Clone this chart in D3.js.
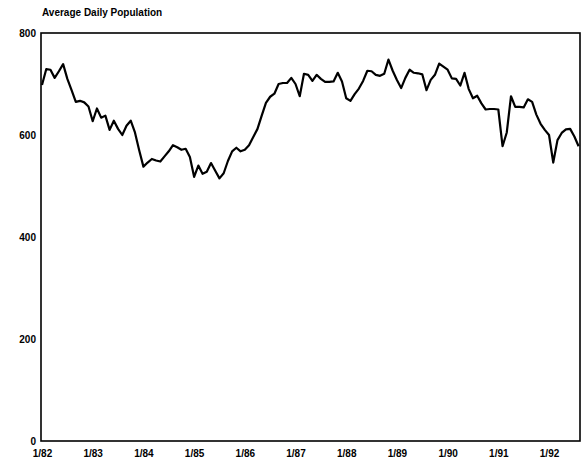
<!DOCTYPE html>
<html>
<head>
<meta charset="utf-8">
<script src="https://cdn.jsdelivr.net/npm/d3@7"></script>
<style>
  body { margin: 0; background: #fff; }
  text { font-family: "Liberation Sans", Arial, sans-serif; font-weight: bold; }
</style>
</head>
<body>
<div id="chart"></div>
<script>
// monthly values, Jan 1982 .. Aug 1992
var population = [
  698, 729, 728, 712, 725, 739, 710, 688, 665, 667, 664, 656,
  627, 652, 634, 638, 610, 628, 612, 600, 618, 628, 605, 570,
  538, 546, 553, 550, 548, 558, 568, 580, 576, 571, 573, 557,
  518, 540, 524, 528, 545, 530, 515, 525, 549, 568, 575, 568,
  571, 580, 596, 612, 638, 663, 675, 681, 700, 702, 702, 712,
  700, 676, 720, 718, 706, 718, 710, 704, 704, 705, 722, 705,
  672, 667, 680, 691, 706, 726, 725, 718, 716, 720, 748, 726,
  708, 692, 712, 728, 722, 721, 719, 688, 708, 718, 740, 734,
  728, 711, 710, 697, 722, 690, 672, 677, 662, 650, 651, 651,
  650, 578, 605, 676, 655, 655, 654, 670, 665, 640, 622, 610,
  600, 546, 590, 604, 611, 612, 597, 578
];
var yearLabels = ["1/82", "1/83", "1/84", "1/85", "1/86", "1/87", "1/88", "1/89", "1/90", "1/91", "1/92"];
var yTicks = [0, 200, 400, 600, 800];
var title = "Average Daily Population";

drawChart();

function drawChart() {
  var W = 581, H = 463;
  var m = {left: 41, right: 580, top: 33, bottom: 441};

  var svg = d3.select("#chart").append("svg")
    .attr("width", W)
    .attr("height", H);

  var x = d3.scaleLinear()
    .domain([0, population.length - 1])
    .range([m.left + 1, 578.6]);

  var y = d3.scaleLinear()
    .domain([0, 800])
    .range([m.bottom, m.top]);

  // title
  svg.append("text")
    .attr("x", 42)
    .attr("y", 16)
    .style("font-size", "10px")
    .text(title);

  // frame
  svg.append("rect")
    .attr("x", m.left)
    .attr("y", m.top)
    .attr("width", m.right - m.left)
    .attr("height", m.bottom - m.top)
    .attr("fill", "none")
    .attr("stroke", "#000")
    .attr("stroke-width", 1.6);

  // y axis labels
  var gy = svg.append("g")
    .attr("transform", "translate(" + m.left + ",0)")
    .call(d3.axisLeft(y).tickValues(yTicks).tickSize(0).tickPadding(5));
  gy.select(".domain").remove();
  gy.selectAll("text")
    .style("font-size", "10px")
    .style("font-family", "Liberation Sans, Arial, sans-serif")
    .style("font-weight", "bold")
    .attr("fill", "#000");

  // x axis labels
  var gx = svg.append("g")
    .attr("transform", "translate(0," + m.bottom + ")")
    .call(d3.axisBottom(x)
      .tickValues(yearLabels.map(function(d, i) { return i * 12; }))
      .tickFormat(function(d) { return yearLabels[d / 12]; })
      .tickSize(0)
      .tickPadding(9));
  gx.select(".domain").remove();
  gx.selectAll("text")
    .style("font-size", "10px")
    .style("font-family", "Liberation Sans, Arial, sans-serif")
    .style("font-weight", "bold")
    .attr("fill", "#000");

  // line
  var line = d3.line()
    .x(function(d, i) { return x(i); })
    .y(function(d) { return y(d); });

  svg.append("path")
    .datum(population)
    .attr("d", line)
    .attr("fill", "none")
    .attr("stroke", "#000")
    .attr("stroke-width", 2.2)
    .attr("stroke-linejoin", "round");
}
</script>
</body>
</html>
